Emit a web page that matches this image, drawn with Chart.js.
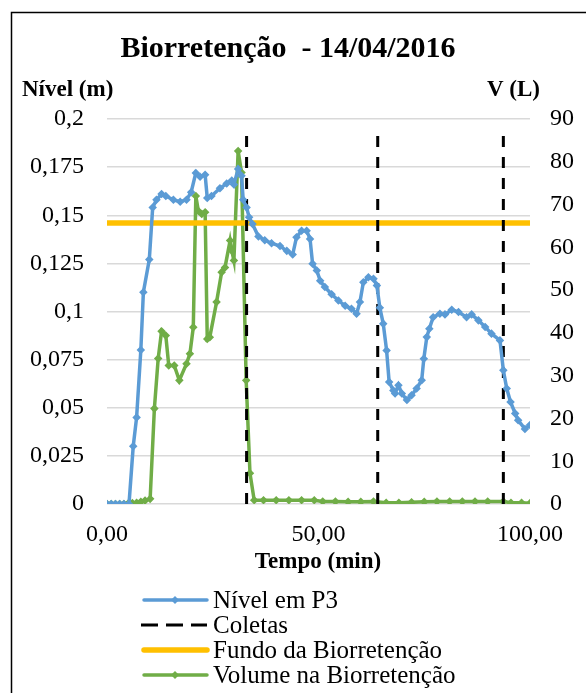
<!DOCTYPE html>
<html lang="pt">
<head>
    <meta charset="UTF-8">
    <title>Biorretenção - 14/04/2016</title>
    <script src="https://cdn.jsdelivr.net/npm/chart.js"></script>
    <style>
        body { margin: 0; background: #fff; }
    </style>
</head>
<body>
    <canvas id="grafico" width="586" height="693"></canvas>

    <script>
        // Dados
        const titulo = 'Biorretenção  - 14/04/2016';
        const rotulos = ['Nível em P3', 'Coletas', 'Fundo da Biorretenção', 'Volume na Biorretenção'];

        // Nível em P3 (m) x tempo (min)
        const tempoNivel = [0, 1, 2, 3, 4, 5.2, 6.2, 7.0, 8.0, 8.6, 10.0, 10.8, 11.7, 12.9, 13.9, 15.7, 17.3, 18.8, 19.9, 21.0,
            22.0, 23.2, 23.7, 24.7, 26.7, 28.3, 29.5, 30.0, 31.0, 31.8, 32.2, 33.0, 33.6, 34.4, 35.8, 37.3, 38.9, 40.9, 42.5, 43.9,
            44.8, 46.0, 47.2, 48.0, 48.6, 49.6, 50.4, 51.5, 53.1, 54.7, 56.3, 57.8, 59.0, 59.8, 60.6, 61.8, 63.0, 63.8, 64.5, 65.3,
            66.1, 66.7, 67.7, 68.1, 68.9, 69.7, 70.9, 72.0, 73.2, 74.4, 74.9, 75.6, 76.2, 77.1, 78.7, 79.9, 81.5, 83.1, 85.0, 86.2,
            87.8, 89.4, 90.9, 92.9, 93.7, 94.5, 95.4, 96.5, 97.2, 98.8, 100];
        const nivelP3 = [0, 0, 0, 0, 0, 0, 0.030, 0.045, 0.080, 0.110, 0.127, 0.154, 0.158, 0.161, 0.160, 0.158, 0.157, 0.158, 0.162, 0.172,
            0.170, 0.171, 0.159, 0.160, 0.164, 0.1665, 0.168, 0.166, 0.174, 0.1705, 0.158, 0.154, 0.149, 0.1455, 0.139, 0.137, 0.1355, 0.134, 0.1315, 0.1296,
            0.1386, 0.142, 0.142, 0.1377, 0.1248, 0.1213, 0.116, 0.1127, 0.109, 0.1057, 0.103, 0.1014, 0.0988, 0.1049, 0.1152, 0.1178, 0.117, 0.1135, 0.102, 0.0937,
            0.0798, 0.0634, 0.059, 0.0574, 0.0617, 0.0574, 0.054, 0.0565, 0.060, 0.0643, 0.0755, 0.0867, 0.091, 0.097, 0.0988, 0.0985, 0.1009, 0.0997, 0.097, 0.0985,
            0.0954, 0.092, 0.0885, 0.085, 0.0695, 0.060, 0.053, 0.047, 0.0435, 0.039, 0.041];

        // Volume na Biorretenção (L) x tempo (min)
        const tempoVolume = [0, 1, 2, 3, 4, 5, 6, 7, 8, 9, 10.2, 11.2, 12.1, 12.9, 13.9, 14.6, 15.9, 17.1, 18.8, 19.6, 20.4,
            21.0, 21.6, 22.4, 23.2, 23.7, 24.3, 25.9, 27.1, 27.9, 29.1, 29.5, 30.0, 31.0, 31.8, 32.9, 33.8, 34.8, 37, 40,
            43, 46, 49, 51, 54, 57, 60, 63, 66, 69, 72, 75, 78, 81, 84, 87, 90, 93.7, 95.5, 98, 100];
        const volume = [0, 0, 0, 0, 0, 0.1, 0.2, 0.3, 0.5, 0.8, 1.2, 22.3, 34, 40.4, 39.4, 32.4, 32.4, 28.9, 32.8, 35.1, 41.3,
            72, 68.5, 67.8, 68.2, 38.6, 39, 47.2, 54.2, 55.3, 61.6, 59.2, 56.9, 82.5, 77.5, 28.9, 7.2, 0.9, 0.9, 0.9,
            0.9, 0.9, 0.9, 0.6, 0.6, 0.5, 0.5, 0.6, 0.3, 0.3, 0.4, 0.5, 0.6, 0.6, 0.6, 0.6, 0.6, 0.6, 0.3, 0.3, 0.2];

        // Coletas (min) e fundo da biorretenção (m)
        const coletasTempo = [33, 64, 93.7];
        const coletasTopo = 0.195;
        const fundoNivel = 0.146;

        // Eixos
        const xMin = 0, xMax = 100, xPasso = 50;
        const nivelMax = 0.2, nivelPasso = 0.025;
        const volumeMax = 90, volumePasso = 10;

        const azul = '#5B9BD5';
        const verde = '#70AD47';
        const laranja = '#FFC000';

        const serif = '"Liberation Serif", "Times New Roman", serif';

        const pares = (xs, ys) => xs.map((x, i) => ({ x: x, y: ys[i] }));

        const coletasPontos = [];
        coletasTempo.forEach(t => {
            coletasPontos.push({ x: t, y: 0 }, { x: t, y: coletasTopo }, { x: t, y: null });
        });

        const virgula = v => String(+v.toFixed(3)).replace('.', ',');

        // Título, eixos, legenda e moldura
        const decor = {
            id: 'decor',
            beforeDraw(chart) {
                const ctx = chart.ctx;
                ctx.save();
                ctx.fillStyle = '#fff';
                ctx.fillRect(0, 0, chart.width, chart.height);
                ctx.restore();
            },
            afterDraw(chart) {
                const ctx = chart.ctx;
                ctx.save();
                ctx.strokeStyle = '#000';
                ctx.lineWidth = 1.5;
                ctx.strokeRect(11.5, 12.5, 800, 800);

                ctx.fillStyle = '#000';
                ctx.textBaseline = 'alphabetic';
                ctx.font = 'bold 30px ' + serif;
                ctx.textAlign = 'center';
                ctx.fillText(titulo, 288, 57);

                ctx.font = 'bold 23px ' + serif;
                ctx.textAlign = 'left';
                ctx.fillText('Nível (m)', 22, 96);
                ctx.textAlign = 'right';
                ctx.fillText('V (L)', 540, 96);
                ctx.textAlign = 'center';
                ctx.fillText('Tempo (min)', 318, 568);

                // legenda
                ctx.font = '25px ' + serif;
                ctx.textAlign = 'left';
                ctx.textBaseline = 'middle';
                chart.data.datasets.forEach((ds, i) => {
                    const y = 600 + i * 25;
                    ctx.save();
                    ctx.strokeStyle = ds.borderColor;
                    ctx.lineWidth = ds.borderWidth;
                    ctx.lineCap = ds.borderDash ? 'butt' : 'round';
                    ctx.setLineDash(ds.borderDash ? [17, 8] : []);
                    ctx.beginPath();
                    ctx.moveTo(ds.borderDash ? 141 : 144, y);
                    ctx.lineTo(207, y);
                    ctx.stroke();
                    if (ds.pointRadius) {
                        ctx.fillStyle = ds.borderColor;
                        ctx.beginPath();
                        ctx.moveTo(175, y - 4);
                        ctx.lineTo(179, y);
                        ctx.lineTo(175, y + 4);
                        ctx.lineTo(171, y);
                        ctx.closePath();
                        ctx.fill();
                    }
                    ctx.restore();
                    ctx.fillStyle = '#000';
                    ctx.fillText(ds.label, 213, y + 1);
                });
                ctx.restore();
            }
        };

        const ctx = document.getElementById('grafico').getContext('2d');
        new Chart(ctx, {
            type: 'line',
            data: {
                datasets: [
                    {
                        label: rotulos[0],
                        data: pares(tempoNivel, nivelP3),
                        yAxisID: 'y',
                        borderColor: azul,
                        backgroundColor: azul,
                        borderWidth: 3.5,
                        pointRadius: 1.8,
                        pointStyle: 'rectRot',
                        fill: false
                    },
                    {
                        label: rotulos[1],
                        data: coletasPontos,
                        yAxisID: 'y',
                        borderColor: '#000',
                        borderWidth: 3,
                        borderDash: [11, 10],
                        pointRadius: 0,
                        spanGaps: false,
                        fill: false
                    },
                    {
                        label: rotulos[2],
                        data: [{ x: xMin, y: fundoNivel }, { x: xMax, y: fundoNivel }],
                        yAxisID: 'y',
                        borderColor: laranja,
                        borderWidth: 5.5,
                        pointRadius: 0,
                        fill: false
                    },
                    {
                        label: rotulos[3],
                        data: pares(tempoVolume, volume),
                        yAxisID: 'y1',
                        borderColor: verde,
                        backgroundColor: verde,
                        borderWidth: 3.5,
                        pointRadius: 1.8,
                        pointStyle: 'rectRot',
                        fill: false
                    }
                ]
            },
            options: {
                responsive: false,
                animation: false,
                layout: { padding: { top: 119, left: 0, right: 0, bottom: 0 } },
                plugins: {
                    legend: { display: false },
                    tooltip: { enabled: false }
                },
                scales: {
                    x: {
                        type: 'linear',
                        min: xMin,
                        max: xMax,
                        grid: { display: false },
                        border: { display: false },
                        ticks: {
                            stepSize: xPasso,
                            padding: 8,
                            color: '#000',
                            font: { family: serif, size: 24 },
                            callback: v => v.toFixed(2).replace('.', ',')
                        },
                        afterFit: s => { s.height = 693 - 504; }
                    },
                    y: {
                        position: 'left',
                        min: 0,
                        max: nivelMax,
                        grid: { color: '#D9D9D9', lineWidth: 1.5, drawTicks: false },
                        border: { display: false },
                        ticks: {
                            stepSize: nivelPasso,
                            padding: 23,
                            color: '#000',
                            font: { family: serif, size: 24 },
                            callback: v => virgula(v)
                        },
                        afterFit: s => { s.width = 107; }
                    },
                    y1: {
                        position: 'right',
                        min: 0,
                        max: volumeMax,
                        grid: { display: false, drawTicks: false },
                        border: { display: false },
                        ticks: {
                            stepSize: volumePasso,
                            padding: 20,
                            color: '#000',
                            font: { family: serif, size: 24 }
                        },
                        afterFit: s => { s.width = 586 - 530; }
                    }
                }
            },
            plugins: [decor]
        });
    </script>
</body>
</html>
